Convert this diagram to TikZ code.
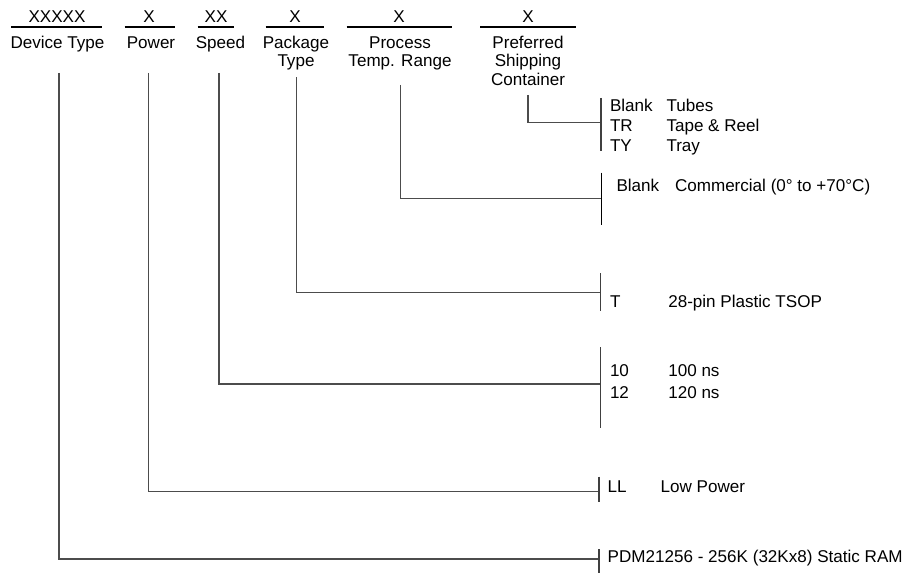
\documentclass[tikz,border=0pt]{standalone}
\usepackage{fontspec}
\setmainfont{Liberation Sans}
\begin{document}
\begin{tikzpicture}[x=0.75pt,y=-0.75pt,
  every node/.style={inner sep=0pt,outer sep=0pt,font=\fontsize{12.8}{13.9}\selectfont},
  hdr/.style={anchor=base,align=center},
  code/.style={anchor=base},
  item/.style={anchor=base west},
  uline/.style={line width=1.5pt,black},
  conn/.style={line width=0.8pt,black!70},
  brk/.style={line width=0.8pt,black!75}]
\useasboundingbox (0,0) rectangle (910,573);

% header codes
\node[code] (cdev) at (57,22.7) {XXXXX};
\node[code] (cpow) at (149,22.7) {X};
\node[code] (cspd) at (216,22.7) {XX};
\node[code] (cpkg) at (295,22.7) {X};
\node[code] (ctmp) at (399,22.7) {X};
\node[code] (cshp) at (528,22.7) {X};

% underlines
\draw[uline] (11,27.5) -- (101.5,27.5);
\draw[uline] (124.5,27.5) -- (174.5,27.5);
\draw[uline] (197.5,27.5) -- (233.5,27.5);
\draw[uline] (265.5,27.5) -- (323.5,27.5);
\draw[uline] (346.5,27.5) -- (451.5,27.5);
\draw[uline] (480,27.5) -- (575.5,27.5);

% header labels (base anchor = baseline of last line)
\node[hdr] (hdev) at (57.5,48.5) {Device Type};
\node[hdr] (hpow) at (151,48.5) {Power};
\node[hdr] (hspd) at (220.5,48.5) {Speed};
\node[hdr] (hpkg) at (296,67) {Package\\Type};
\node[hdr] (htmp) at (400,67) {Process\\Temp. Range};
\node[hdr] (hshp) at (528,85.5) {Preferred\\Shipping\\Container};

% connector start points
\coordinate (sdev) at (59,73);
\coordinate (spow) at (148.5,73);
\coordinate (sspd) at (219,73);
\coordinate (spkg) at (296.5,77.5);
\coordinate (stmp) at (400.5,85);
\coordinate (sshp) at (528,95);

% bracket join points
\coordinate (jshp) at (601,122.7);
\coordinate (jtmp) at (601.5,198.3);
\coordinate (jpkg) at (600.7,292.3);
\coordinate (jspd) at (600.7,384);
\coordinate (jpow) at (599,491.7);
\coordinate (jdev) at (599,559);

% connectors
\draw[conn] (sshp) |- (jshp);
\draw[conn] (stmp) |- (jtmp);
\draw[conn] (spkg) |- (jpkg);
\draw[conn] (sspd) |- (jspd);
\draw[conn] (spow) |- (jpow);
\draw[conn] (sdev) |- (jdev);

% brackets
\draw[brk] (601,98) -- (601,151);
\draw[brk,black] (601.5,172.7) -- (601.5,225);
\draw[brk] (600.7,273.3) -- (600.7,310.7);
\draw[brk] (600.7,347.3) -- (600.7,428.3);
\draw[brk] (599,476.7) -- (599,502.3);
\draw[brk] (599,549.3) -- (599,573);

% options
\node[item] (o1a) at (610,112) {Blank};
\node[item] (o1b) at (666.5,112) {Tubes};
\node[item] (o2a) at (610,131.8) {TR};
\node[item] (o2b) at (666.5,131.8) {Tape \& Reel};
\node[item] (o3a) at (610,151.6) {TY};
\node[item] (o3b) at (666.5,151.6) {Tray};

\node[item] (t1a) at (616.5,191.5) {Blank};
\node[item] (t1b) at (675,191.5) {Commercial (0° to +70°C)};

\node[item] (p1a) at (610,307.3) {T};
\node[item] (p1b) at (668.3,307.3) {28-pin Plastic TSOP};

\node[item] (s1a) at (610,377) {10};
\node[item] (s1b) at (668.3,377) {100 ns};
\node[item] (s2a) at (610,398) {12};
\node[item] (s2b) at (668.3,398) {120 ns};

\node[item] (w1a) at (607.7,492.7) {LL};
\node[item] (w1b) at (660.7,492.7) {Low Power};

\node[item] (d1) at (607.7,562.5) {PDM21256 - 256K (32Kx8) Static RAM};
\end{tikzpicture}
\end{document}
